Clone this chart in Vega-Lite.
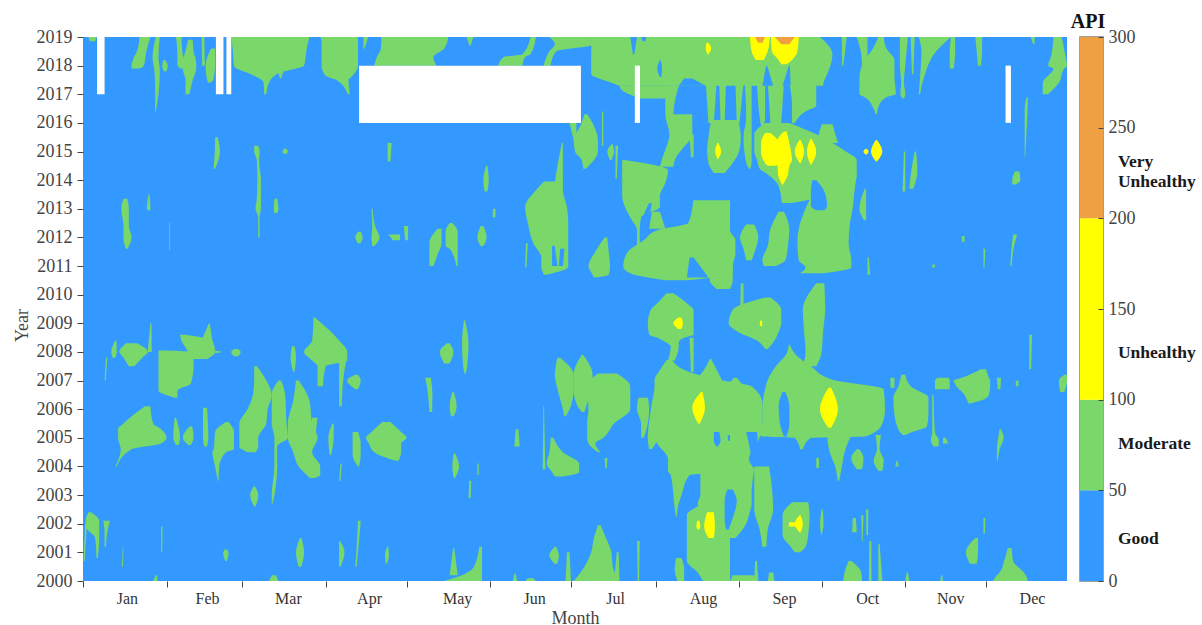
{"$schema":"https://vega.github.io/schema/vega-lite/v6.json","padding":{"left":13,"top":10,"right":0,"bottom":0},"background":"white","spacing":3,
"config":{"font":"Liberation Serif","view":{"stroke":null}},
"datasets":{
"moderate":[
{"id":1,"yr":2019,"d0":2,"d1":5},{"id":1,"yr":2018.85,"d0":2.5,"d1":4.5},
{"id":2,"yr":2019,"d0":21,"d1":25},{"id":2,"yr":2018.5,"d0":20,"d1":23.5},{"id":2,"yr":2018.2,"d0":18.5,"d1":23},{"id":2,"yr":2018,"d0":18,"d1":22.5},{"id":2,"yr":2017.9,"d0":18,"d1":21},
{"id":3,"yr":2019,"d0":27,"d1":28.5},{"id":3,"yr":2018.3,"d0":25.8,"d1":28},{"id":3,"yr":2017.8,"d0":26.5,"d1":28.5},{"id":3,"yr":2017,"d0":26.8,"d1":28},{"id":3,"yr":2016.4,"d0":26.7,"d1":27},
{"id":4,"yr":2018.2,"d0":29.8,"d1":30.5},{"id":4,"yr":2018,"d0":29.4,"d1":31.4},{"id":4,"yr":2017.8,"d0":30,"d1":31},
{"id":5,"yr":2019,"d0":34.5,"d1":36.5},{"id":5,"yr":2018.4,"d0":35,"d1":37},{"id":5,"yr":2018.05,"d0":35,"d1":38},{"id":5,"yr":2017.9,"d0":36,"d1":38},
{"id":6,"yr":2018.9,"d0":39,"d1":40.7},{"id":6,"yr":2018.5,"d0":38,"d1":41},{"id":6,"yr":2018.1,"d0":37,"d1":42},{"id":6,"yr":2017.9,"d0":37,"d1":42},{"id":6,"yr":2017.5,"d0":38,"d1":40.7},{"id":6,"yr":2017,"d0":38,"d1":39.5},
{"id":7,"yr":2019,"d0":44,"d1":45},{"id":7,"yr":2018,"d0":44.2,"d1":45.2},
{"id":8,"yr":2018.6,"d0":47.5,"d1":49},{"id":8,"yr":2018,"d0":45.5,"d1":49},{"id":8,"yr":2017.5,"d0":46,"d1":48.3},{"id":8,"yr":2017.4,"d0":46.5,"d1":47},
{"id":9,"yr":2019,"d0":55,"d1":84},{"id":9,"yr":2018.6,"d0":55.5,"d1":83},{"id":9,"yr":2018,"d0":56,"d1":82},{"id":9,"yr":2017.9,"d0":57,"d1":79},{"id":9,"yr":2017.75,"d0":61,"d1":73},{"id":9,"yr":2017.4,"d0":67,"d1":69},{"id":9,"yr":2017,"d0":67.2,"d1":68},
{"id":10,"yr":2018,"d0":72,"d1":75},{"id":10,"yr":2017.55,"d0":73,"d1":73.5},
{"id":11,"yr":2019,"d0":88,"d1":102},{"id":11,"yr":2018.85,"d0":88.5,"d1":102},{"id":11,"yr":2018,"d0":88.5,"d1":102},{"id":11,"yr":2017.65,"d0":90,"d1":100},{"id":11,"yr":2017.5,"d0":94,"d1":98.5},{"id":11,"yr":2017,"d0":98.2,"d1":99},
{"id":12,"yr":2019,"d0":104,"d1":105.8},{"id":12,"yr":2018.6,"d0":104,"d1":104.5},
{"id":13,"yr":2019,"d0":110.7,"d1":135.5},{"id":13,"yr":2018.6,"d0":110.5,"d1":134},{"id":13,"yr":2018.3,"d0":109,"d1":130},{"id":13,"yr":2018,"d0":108,"d1":131},
{"id":14,"yr":2019,"d0":142.3,"d1":144.8},{"id":14,"yr":2018.7,"d0":143.3,"d1":143.8},
{"id":15,"yr":2019,"d0":166,"d1":168},{"id":15,"yr":2018.4,"d0":163,"d1":166},{"id":15,"yr":2018.3,"d0":156,"d1":164},{"id":15,"yr":2018,"d0":154,"d1":163},
{"id":16,"yr":2019,"d0":173,"d1":190},{"id":16,"yr":2018.75,"d0":175,"d1":190},{"id":16,"yr":2018.5,"d0":173,"d1":175.5},{"id":16,"yr":2018,"d0":170.8,"d1":173.4},
{"id":17,"yr":2019,"d0":188.7,"d1":273.4},{"id":17,"yr":2018.4,"d0":188.5,"d1":278},{"id":17,"yr":2017.7,"d0":188.5,"d1":276},{"id":17,"yr":2017.6,"d0":190,"d1":275.5},{"id":17,"yr":2017.5,"d0":193,"d1":275},{"id":17,"yr":2017.3,"d0":199,"d1":274.5},
{"id":18,"yr":2017.3,"d0":199,"d1":221},{"id":18,"yr":2017.1,"d0":200.5,"d1":220},{"id":18,"yr":2016.95,"d0":204,"d1":219},{"id":18,"yr":2016.85,"d0":206,"d1":218},
{"id":19,"yr":2017.3,"d0":216,"d1":221},{"id":19,"yr":2016.3,"d0":216,"d1":219},{"id":19,"yr":2015.6,"d0":217.5,"d1":226},{"id":19,"yr":2015.05,"d0":216,"d1":222},{"id":19,"yr":2014.8,"d0":215,"d1":220},{"id":19,"yr":2014.47,"d0":214,"d1":219},
{"id":20,"yr":2016.3,"d0":218,"d1":226},{"id":20,"yr":2015.6,"d0":218,"d1":226},
{"id":21,"yr":2015.6,"d0":225,"d1":226.5},{"id":21,"yr":2014.8,"d0":225.5,"d1":226.5},
{"id":22,"yr":2017.4,"d0":231,"d1":235},{"id":22,"yr":2016,"d0":232,"d1":234},
{"id":23,"yr":2017.4,"d0":236,"d1":238.5},{"id":23,"yr":2016,"d0":236.5,"d1":238},
{"id":24,"yr":2017.4,"d0":242,"d1":245},{"id":24,"yr":2016,"d0":242.5,"d1":243.5},
{"id":25,"yr":2017.4,"d0":245.5,"d1":248},{"id":25,"yr":2016.2,"d0":246,"d1":248},{"id":25,"yr":2015.5,"d0":245,"d1":248},{"id":25,"yr":2014.6,"d0":246,"d1":248},{"id":25,"yr":2014.4,"d0":247,"d1":247.5},
{"id":26,"yr":2017.4,"d0":250,"d1":253},{"id":26,"yr":2016.2,"d0":251,"d1":253},{"id":26,"yr":2015.9,"d0":251.5,"d1":252.5},
{"id":27,"yr":2017.4,"d0":254,"d1":260},{"id":27,"yr":2016,"d0":255,"d1":259},
{"id":28,"yr":2017.4,"d0":262,"d1":272},{"id":28,"yr":2016.6,"d0":263,"d1":272},{"id":28,"yr":2016.4,"d0":263,"d1":268},{"id":28,"yr":2016,"d0":263,"d1":264},
{"id":29,"yr":2016.1,"d0":233,"d1":243},{"id":29,"yr":2015.5,"d0":232,"d1":244},{"id":29,"yr":2015.05,"d0":231.5,"d1":243.5},{"id":29,"yr":2014.6,"d0":232,"d1":241},{"id":29,"yr":2014.25,"d0":234,"d1":238},
{"id":30,"yr":2016,"d0":253,"d1":262},{"id":30,"yr":2015.6,"d0":249,"d1":272},{"id":30,"yr":2015.3,"d0":249,"d1":278},{"id":30,"yr":2015,"d0":249,"d1":283},{"id":30,"yr":2014.7,"d0":250,"d1":287},{"id":30,"yr":2014.4,"d0":251,"d1":287},{"id":30,"yr":2014.2,"d0":254,"d1":287},{"id":30,"yr":2013.8,"d0":258,"d1":286},{"id":30,"yr":2013.2,"d0":259.2,"d1":263},
{"id":31,"yr":2015.95,"d0":274,"d1":278},{"id":31,"yr":2015.3,"d0":272,"d1":280},
{"id":32,"yr":2014.2,"d0":268,"d1":287},{"id":32,"yr":2013.5,"d0":270,"d1":286},{"id":32,"yr":2013,"d0":268,"d1":285.5},{"id":32,"yr":2012.5,"d0":266,"d1":284.5},{"id":32,"yr":2011.8,"d0":265,"d1":284},{"id":32,"yr":2011.2,"d0":265.5,"d1":285},{"id":32,"yr":2010.95,"d0":268,"d1":285},{"id":32,"yr":2010.75,"d0":266,"d1":275},
{"id":33,"yr":2012.9,"d0":258,"d1":260},{"id":33,"yr":2012.3,"d0":255,"d1":262},{"id":33,"yr":2011.7,"d0":254,"d1":261.5},{"id":33,"yr":2011.2,"d0":252,"d1":260.5},{"id":33,"yr":2011,"d0":252.5,"d1":257},
{"id":34,"yr":2012.45,"d0":246,"d1":249},{"id":34,"yr":2012,"d0":243.7,"d1":250.5},{"id":34,"yr":2011.6,"d0":245,"d1":249.5},{"id":34,"yr":2011.2,"d0":246,"d1":248},
{"id":35,"yr":2013.3,"d0":226.4,"d1":240},{"id":35,"yr":2012.5,"d0":224.5,"d1":240},{"id":35,"yr":2012.25,"d0":213,"d1":240},{"id":35,"yr":2011.9,"d0":208,"d1":242},{"id":35,"yr":2011.45,"d0":201.7,"d1":242},{"id":35,"yr":2010.98,"d0":200.4,"d1":241},{"id":35,"yr":2010.75,"d0":203,"d1":241},{"id":35,"yr":2010.5,"d0":216,"d1":224},
{"id":36,"yr":2011,"d0":232.5,"d1":241},{"id":36,"yr":2010.5,"d0":232.5,"d1":241},{"id":36,"yr":2010.2,"d0":235,"d1":240},
{"id":37,"yr":2014.7,"d0":200,"d1":201},{"id":37,"yr":2014.35,"d0":200,"d1":217},{"id":37,"yr":2013.9,"d0":200,"d1":216},{"id":37,"yr":2013.45,"d0":200,"d1":214},{"id":37,"yr":2013.07,"d0":201,"d1":214},{"id":37,"yr":2012.7,"d0":203,"d1":207},{"id":37,"yr":2012.25,"d0":205.5,"d1":206.5},{"id":37,"yr":2011.6,"d0":205.5,"d1":206.5},
{"id":38,"yr":2012.9,"d0":211,"d1":214},{"id":38,"yr":2012.3,"d0":210,"d1":216},
{"id":39,"yr":2016.3,"d0":186,"d1":187},{"id":39,"yr":2015.9,"d0":184.5,"d1":189.5},{"id":39,"yr":2015.4,"d0":182,"d1":191},{"id":39,"yr":2015,"d0":182.5,"d1":191},{"id":39,"yr":2014.7,"d0":185,"d1":189.5},{"id":39,"yr":2014.4,"d0":185.5,"d1":186.5},
{"id":40,"yr":2016,"d0":180.5,"d1":183},{"id":40,"yr":2015.4,"d0":182,"d1":183},
{"id":41,"yr":2016.4,"d0":192.5,"d1":193},{"id":41,"yr":2015.2,"d0":192.5,"d1":193},
{"id":42,"yr":2015.25,"d0":196,"d1":196.5},{"id":42,"yr":2015,"d0":194.5,"d1":197},{"id":42,"yr":2014.7,"d0":195.5,"d1":196},
{"id":43,"yr":2015.2,"d0":197.5,"d1":198.5},{"id":43,"yr":2014.05,"d0":197.5,"d1":198},
{"id":44,"yr":2015.3,"d0":177.6,"d1":178},{"id":44,"yr":2014.5,"d0":176,"d1":178},{"id":44,"yr":2013.9,"d0":175,"d1":178},
{"id":45,"yr":2013.95,"d0":171,"d1":178},{"id":45,"yr":2013.65,"d0":168,"d1":178},{"id":45,"yr":2013.07,"d0":164,"d1":179.5},{"id":45,"yr":2012.5,"d0":165,"d1":180},{"id":45,"yr":2011.8,"d0":167,"d1":180},{"id":45,"yr":2011.3,"d0":170,"d1":180},{"id":45,"yr":2010.98,"d0":170,"d1":180},{"id":45,"yr":2010.7,"d0":171,"d1":172},
{"id":46,"yr":2011.8,"d0":164.3,"d1":165},{"id":46,"yr":2010.95,"d0":164,"d1":164.5},
{"id":47,"yr":2012,"d0":193.5,"d1":194.5},{"id":47,"yr":2011.5,"d0":190,"d1":195},{"id":47,"yr":2011,"d0":187.5,"d1":195.5},{"id":47,"yr":2010.7,"d0":189,"d1":195},{"id":47,"yr":2010.6,"d0":189.5,"d1":190},
{"id":48,"yr":2014.5,"d0":149.5,"d1":150},{"id":48,"yr":2014,"d0":148.5,"d1":150.5},{"id":48,"yr":2013.6,"d0":149,"d1":150},
{"id":49,"yr":2013,"d0":152,"d1":153},{"id":49,"yr":2012.7,"d0":152,"d1":153},
{"id":50,"yr":2012.4,"d0":119,"d1":120.6},{"id":50,"yr":2011.9,"d0":119.5,"d1":120.6},
{"id":51,"yr":2012.3,"d0":131.5,"d1":133},{"id":51,"yr":2011.8,"d0":128.5,"d1":133},{"id":51,"yr":2011.4,"d0":128.5,"d1":131.5},{"id":51,"yr":2011,"d0":128.5,"d1":130},
{"id":52,"yr":2012.5,"d0":136,"d1":137},{"id":52,"yr":2012.2,"d0":134.5,"d1":139},{"id":52,"yr":2011.7,"d0":134.5,"d1":139},{"id":52,"yr":2011.6,"d0":136,"d1":139},{"id":52,"yr":2011,"d0":138.5,"d1":139},
{"id":53,"yr":2012.4,"d0":147.5,"d1":148.5},{"id":53,"yr":2012,"d0":146.3,"d1":149.7},{"id":53,"yr":2011.7,"d0":147.5,"d1":148.5},
{"id":54,"yr":2015.5,"d0":49,"d1":50},{"id":54,"yr":2015,"d0":48.9,"d1":50.8},{"id":54,"yr":2014.4,"d0":48.4,"d1":49},
{"id":55,"yr":2015.2,"d0":63.5,"d1":65},{"id":55,"yr":2015,"d0":63.5,"d1":65.5},{"id":55,"yr":2014.7,"d0":64.5,"d1":65.3},{"id":55,"yr":2014,"d0":64.7,"d1":66},{"id":55,"yr":2013.3,"d0":64.4,"d1":66},{"id":55,"yr":2013,"d0":64,"d1":66},{"id":55,"yr":2012.7,"d0":65,"d1":65.5},{"id":55,"yr":2012,"d0":65,"d1":65.5},
{"id":56,"yr":2015.1,"d0":74.5,"d1":75.5},{"id":56,"yr":2015,"d0":74,"d1":76},{"id":56,"yr":2014.92,"d0":74.5,"d1":75.5},
{"id":57,"yr":2013.35,"d0":71,"d1":72},{"id":57,"yr":2013,"d0":70.8,"d1":72.5},{"id":57,"yr":2012.85,"d0":71,"d1":72},
{"id":58,"yr":2015.3,"d0":113,"d1":114.5},{"id":58,"yr":2014.65,"d0":113,"d1":114},
{"id":59,"yr":2013.35,"d0":15,"d1":16.5},{"id":59,"yr":2013,"d0":14.2,"d1":17},{"id":59,"yr":2012.4,"d0":15,"d1":17},{"id":59,"yr":2012,"d0":15,"d1":18},{"id":59,"yr":2011.6,"d0":15.8,"d1":16.5},
{"id":60,"yr":2013.5,"d0":24.3,"d1":24.7},{"id":60,"yr":2013,"d0":23.7,"d1":25},{"id":60,"yr":2012.95,"d0":24,"d1":25},
{"id":61,"yr":2012.5,"d0":32,"d1":32.3},{"id":61,"yr":2011.55,"d0":32,"d1":32.3},
{"id":62,"yr":2012.2,"d0":102,"d1":103},{"id":62,"yr":2012,"d0":101,"d1":103.7},{"id":62,"yr":2011.8,"d0":102,"d1":103},
{"id":63,"yr":2013,"d0":107,"d1":107.4},{"id":63,"yr":2012.35,"d0":107.3,"d1":108.5},{"id":63,"yr":2012,"d0":107,"d1":110},{"id":63,"yr":2011.7,"d0":107.3,"d1":108},
{"id":64,"yr":2012.1,"d0":113.2,"d1":117.6},{"id":64,"yr":2011.9,"d0":115,"d1":117.6},
{"id":65,"yr":2019,"d0":281.5,"d1":283.3},{"id":65,"yr":2018,"d0":281.5,"d1":282},
{"id":66,"yr":2019,"d0":295,"d1":297},{"id":66,"yr":2018.6,"d0":293,"d1":298},{"id":66,"yr":2018.2,"d0":290,"d1":301},{"id":66,"yr":2017.6,"d0":288,"d1":301},{"id":66,"yr":2017,"d0":288,"d1":301.5},{"id":66,"yr":2016.9,"d0":290,"d1":298},{"id":66,"yr":2016.55,"d0":293,"d1":295},{"id":66,"yr":2016.3,"d0":294,"d1":294.5},
{"id":67,"yr":2019,"d0":287,"d1":291},{"id":67,"yr":2018.5,"d0":288.5,"d1":291},{"id":67,"yr":2018,"d0":289,"d1":291},
{"id":68,"yr":2019,"d0":303,"d1":306},{"id":68,"yr":2018,"d0":303,"d1":305},{"id":68,"yr":2017.4,"d0":303.5,"d1":304.5},{"id":68,"yr":2017,"d0":303.2,"d1":305},{"id":68,"yr":2016.85,"d0":304,"d1":304.5},
{"id":69,"yr":2019,"d0":310,"d1":322},{"id":69,"yr":2018.5,"d0":311,"d1":316.5},{"id":69,"yr":2017.6,"d0":310.5,"d1":312},{"id":69,"yr":2017,"d0":310,"d1":310.5},
{"id":70,"yr":2019,"d0":307,"d1":308.5},{"id":70,"yr":2017.7,"d0":307.5,"d1":308},
{"id":71,"yr":2019,"d0":322,"d1":323.5},{"id":71,"yr":2018.5,"d0":321.5,"d1":323.5},{"id":71,"yr":2017.9,"d0":321.5,"d1":323},
{"id":72,"yr":2019,"d0":331,"d1":333.5},{"id":72,"yr":2018.5,"d0":331.5,"d1":333.5},{"id":72,"yr":2018,"d0":332,"d1":333},
{"id":73,"yr":2019,"d0":351.5,"d1":353},{"id":73,"yr":2018.75,"d0":352.5,"d1":353},
{"id":74,"yr":2019,"d0":360,"d1":363},{"id":74,"yr":2018.3,"d0":359,"d1":364.5},{"id":74,"yr":2018,"d0":358,"d1":365},{"id":74,"yr":2017.9,"d0":360,"d1":364},{"id":74,"yr":2017.4,"d0":356,"d1":362},{"id":74,"yr":2017,"d0":356,"d1":358},
{"id":75,"yr":2016.9,"d0":350,"d1":350.5},{"id":75,"yr":2016.5,"d0":349.3,"d1":350.4},{"id":75,"yr":2015.5,"d0":349.3,"d1":349.9},{"id":75,"yr":2014.8,"d0":349.3,"d1":349.5},
{"id":76,"yr":2014.3,"d0":345.7,"d1":347.3},{"id":76,"yr":2014,"d0":344.7,"d1":347.7},{"id":76,"yr":2013.85,"d0":344.7,"d1":346},
{"id":77,"yr":2015,"d0":308.5,"d1":309},{"id":77,"yr":2014.3,"d0":307.2,"d1":309.5},{"id":77,"yr":2013.7,"d0":306.5,"d1":308},
{"id":78,"yr":2015,"d0":304.5,"d1":305},{"id":78,"yr":2013.6,"d0":304,"d1":305},
{"id":79,"yr":2013.7,"d0":290,"d1":290.5},{"id":79,"yr":2013,"d0":288,"d1":290.5},{"id":79,"yr":2012.6,"d0":289.7,"d1":290.5},
{"id":80,"yr":2011.3,"d0":291,"d1":291.5},{"id":80,"yr":2010.7,"d0":291,"d1":292},
{"id":81,"yr":2012.1,"d0":345,"d1":346.5},{"id":81,"yr":2011.5,"d0":344.3,"d1":345},{"id":81,"yr":2011,"d0":344,"d1":344.5},
{"id":82,"yr":2012.05,"d0":326,"d1":327},{"id":82,"yr":2011.85,"d0":326,"d1":327},
{"id":83,"yr":2011.6,"d0":334,"d1":334.7},{"id":83,"yr":2010.95,"d0":334,"d1":334.4},
{"id":84,"yr":2011.05,"d0":315,"d1":316},{"id":84,"yr":2010.95,"d0":315,"d1":316},
{"id":85,"yr":2010.4,"d0":244,"d1":245},{"id":85,"yr":2009.5,"d0":243.8,"d1":245},
{"id":86,"yr":2009.9,"d0":253,"d1":255},{"id":86,"yr":2009.47,"d0":241,"d1":259},{"id":86,"yr":2009,"d0":239.5,"d1":259},{"id":86,"yr":2008.7,"d0":243,"d1":258},{"id":86,"yr":2008.4,"d0":250,"d1":256.5},{"id":86,"yr":2008.1,"d0":253,"d1":254},
{"id":87,"yr":2010.4,"d0":272,"d1":275},{"id":87,"yr":2009.47,"d0":267,"d1":275.3},{"id":87,"yr":2008.7,"d0":267.5,"d1":274.5},{"id":87,"yr":2008,"d0":268,"d1":274},{"id":87,"yr":2007.5,"d0":267,"d1":272},
{"id":88,"yr":2010.05,"d0":216.5,"d1":219},{"id":88,"yr":2009.7,"d0":213,"d1":224},{"id":88,"yr":2009.45,"d0":210.5,"d1":226.5},{"id":88,"yr":2009,"d0":209.5,"d1":226.5},{"id":88,"yr":2008.6,"d0":210,"d1":226.5},{"id":88,"yr":2008.5,"d0":213,"d1":223},{"id":88,"yr":2008.35,"d0":216,"d1":221},{"id":88,"yr":2008.2,"d0":218,"d1":221},{"id":88,"yr":2007.7,"d0":217,"d1":219.5},
{"id":89,"yr":2008.5,"d0":225,"d1":226.5},{"id":89,"yr":2007.3,"d0":225.5,"d1":226.5},
{"id":90,"yr":2007.72,"d0":216.5,"d1":218.5},{"id":90,"yr":2007.3,"d0":213.5,"d1":225},{"id":90,"yr":2007.03,"d0":212,"d1":236},{"id":90,"yr":2006.8,"d0":212,"d1":248},{"id":90,"yr":2006.2,"d0":211,"d1":252},{"id":90,"yr":2005.4,"d0":210,"d1":252},{"id":90,"yr":2004.8,"d0":213,"d1":250},{"id":90,"yr":2004.25,"d0":217,"d1":247},{"id":90,"yr":2003.85,"d0":217,"d1":249},{"id":90,"yr":2003.7,"d0":218,"d1":225},{"id":90,"yr":2003,"d0":219,"d1":222},{"id":90,"yr":2002.5,"d0":219.5,"d1":220.5},{"id":90,"yr":2002.25,"d0":220,"d1":220.3},
{"id":91,"yr":2007.75,"d0":232.5,"d1":233},{"id":91,"yr":2007.2,"d0":229,"d1":236},{"id":91,"yr":2007,"d0":227,"d1":237},
{"id":92,"yr":2007.1,"d0":241.5,"d1":242.5},{"id":92,"yr":2006.7,"d0":238,"d1":246},
{"id":93,"yr":2003.9,"d0":229,"d1":249},{"id":93,"yr":2003,"d0":229,"d1":248},{"id":93,"yr":2002.7,"d0":228,"d1":248},{"id":93,"yr":2002.3,"d0":230,"d1":247},{"id":93,"yr":2002,"d0":238,"d1":246},{"id":93,"yr":2001.5,"d0":239,"d1":242},
{"id":94,"yr":2004,"d0":249,"d1":254.5},{"id":94,"yr":2003.3,"d0":249,"d1":255.5},{"id":94,"yr":2002.5,"d0":249,"d1":256},{"id":94,"yr":2001.8,"d0":251,"d1":254},{"id":94,"yr":2001.2,"d0":252,"d1":253.5},
{"id":95,"yr":2002.6,"d0":228,"d1":238},{"id":95,"yr":2002.3,"d0":224,"d1":239},{"id":95,"yr":2001.5,"d0":224,"d1":240},{"id":95,"yr":2000.7,"d0":224,"d1":240},{"id":95,"yr":2000.3,"d0":228,"d1":240},{"id":95,"yr":2000,"d0":230,"d1":240},
{"id":96,"yr":2002.75,"d0":263,"d1":269},{"id":96,"yr":2002.3,"d0":259.5,"d1":269.5},{"id":96,"yr":2001.6,"d0":259.5,"d1":269},{"id":96,"yr":2001.2,"d0":262.5,"d1":268},{"id":96,"yr":2001,"d0":264,"d1":266},
{"id":97,"yr":2008.25,"d0":261.8,"d1":262.2},{"id":97,"yr":2007.95,"d0":261,"d1":264},{"id":97,"yr":2007.5,"d0":257,"d1":270},{"id":97,"yr":2007.03,"d0":254,"d1":278},{"id":97,"yr":2006.7,"d0":253,"d1":297},{"id":97,"yr":2006,"d0":252,"d1":297.5},{"id":97,"yr":2005.5,"d0":252,"d1":296.5},{"id":97,"yr":2005.16,"d0":250,"d1":293},{"id":97,"yr":2005.05,"d0":252,"d1":290},{"id":97,"yr":2005,"d0":264,"d1":270},{"id":97,"yr":2004.6,"d0":266,"d1":267},
{"id":98,"yr":2005.1,"d0":276,"d1":285},{"id":98,"yr":2004.5,"d0":277,"d1":282.5},{"id":98,"yr":2004,"d0":279,"d1":281.5},{"id":98,"yr":2003.5,"d0":280,"d1":280.5},
{"id":99,"yr":2004.6,"d0":287,"d1":288},{"id":99,"yr":2004.3,"d0":285,"d1":289.5},{"id":99,"yr":2003.9,"d0":287,"d1":289},
{"id":100,"yr":2005.1,"d0":294,"d1":296},{"id":100,"yr":2004.6,"d0":294.5,"d1":295.5},{"id":100,"yr":2004.2,"d0":293.3,"d1":297},{"id":100,"yr":2003.85,"d0":295,"d1":296.5},
{"id":101,"yr":2004.3,"d0":272,"d1":273},{"id":101,"yr":2003.95,"d0":272,"d1":273},
{"id":102,"yr":2004.2,"d0":301.8,"d1":302.3},{"id":102,"yr":2004,"d0":301.3,"d1":302.5},
{"id":103,"yr":2007.2,"d0":303.5,"d1":305},{"id":103,"yr":2006.8,"d0":302.5,"d1":307},{"id":103,"yr":2006.4,"d0":300.6,"d1":313.6},{"id":103,"yr":2005.8,"d0":301,"d1":313.6},{"id":103,"yr":2005.4,"d0":302,"d1":313},{"id":103,"yr":2005.2,"d0":303,"d1":307.5},{"id":103,"yr":2005.1,"d0":304,"d1":305},
{"id":104,"yr":2007.1,"d0":299.5,"d1":301},{"id":104,"yr":2006.75,"d0":299.5,"d1":301},
{"id":105,"yr":2006.5,"d0":315,"d1":315.5},{"id":105,"yr":2005.2,"d0":315,"d1":316},{"id":105,"yr":2004.9,"d0":314.5,"d1":317.5},{"id":105,"yr":2004.7,"d0":315.5,"d1":317.3},
{"id":106,"yr":2005,"d0":319,"d1":320},{"id":106,"yr":2004.8,"d0":319,"d1":321},
{"id":107,"yr":2007.1,"d0":317,"d1":321},{"id":107,"yr":2007,"d0":316,"d1":321.5},{"id":107,"yr":2006.7,"d0":316,"d1":321.5},
{"id":108,"yr":2007.4,"d0":333,"d1":335},{"id":108,"yr":2007.1,"d0":326,"d1":336},{"id":108,"yr":2007,"d0":323,"d1":336.5},{"id":108,"yr":2006.8,"d0":324,"d1":336.5},{"id":108,"yr":2006.5,"d0":327,"d1":336},{"id":108,"yr":2006.3,"d0":328,"d1":333},{"id":108,"yr":2006.2,"d0":328.5,"d1":329},
{"id":109,"yr":2007.1,"d0":339,"d1":340.5},{"id":109,"yr":2006.7,"d0":339.3,"d1":340.3},
{"id":110,"yr":2007,"d0":346,"d1":347},{"id":110,"yr":2006.8,"d0":346,"d1":347},
{"id":111,"yr":2008.6,"d0":351,"d1":352},{"id":111,"yr":2007.4,"d0":351,"d1":351.7},
{"id":112,"yr":2007.2,"d0":364,"d1":365},{"id":112,"yr":2007,"d0":362,"d1":365},{"id":112,"yr":2006.6,"d0":362.5,"d1":364},
{"id":113,"yr":2005.3,"d0":340,"d1":340.5},{"id":113,"yr":2005,"d0":339.5,"d1":341.5},{"id":113,"yr":2004.6,"d0":339,"d1":340},{"id":113,"yr":2004.2,"d0":339,"d1":339.3},
{"id":114,"yr":2002.5,"d0":274,"d1":274.4},{"id":114,"yr":2002,"d0":273.4,"d1":274.7},{"id":114,"yr":2001.6,"d0":273.8,"d1":274},
{"id":115,"yr":2002.2,"d0":285.5,"d1":286.7},{"id":115,"yr":2001.7,"d0":285.3,"d1":287},
{"id":116,"yr":2002.3,"d0":288.7,"d1":289.5},{"id":116,"yr":2001.4,"d0":288.9,"d1":289.2},
{"id":117,"yr":2002.5,"d0":290.5,"d1":291.3},{"id":117,"yr":2001.6,"d0":290.6,"d1":291.2},
{"id":118,"yr":2001.5,"d0":331,"d1":332},{"id":118,"yr":2001,"d0":327.5,"d1":332},{"id":118,"yr":2000.6,"d0":329,"d1":331.5},
{"id":119,"yr":2002.2,"d0":334,"d1":334.7},{"id":119,"yr":2001.65,"d0":334,"d1":334.5},
{"id":120,"yr":2000.7,"d0":284,"d1":285},{"id":120,"yr":2000.3,"d0":282.5,"d1":288.7},{"id":120,"yr":2000,"d0":282,"d1":289},
{"id":121,"yr":2001.4,"d0":291.7,"d1":292.4},{"id":121,"yr":2000,"d0":291.5,"d1":292.5},
{"id":122,"yr":2001.3,"d0":295,"d1":295.5},{"id":122,"yr":2000,"d0":295,"d1":296.5},
{"id":123,"yr":2000.3,"d0":305.5,"d1":306},{"id":123,"yr":2000,"d0":305,"d1":306.5},
{"id":124,"yr":2000.2,"d0":318.3,"d1":318.7},{"id":124,"yr":2000,"d0":318,"d1":319},
{"id":125,"yr":2001.15,"d0":343,"d1":344.5},{"id":125,"yr":2000.7,"d0":341.7,"d1":345},{"id":125,"yr":2000.3,"d0":340,"d1":349},{"id":125,"yr":2000.15,"d0":338.5,"d1":350},{"id":125,"yr":2000,"d0":337.5,"d1":350.5},
{"id":126,"yr":2000.8,"d0":220,"d1":222},{"id":126,"yr":2000.4,"d0":219.5,"d1":223},{"id":126,"yr":2000,"d0":220.5,"d1":223},
{"id":127,"yr":2001.95,"d0":191,"d1":192},{"id":127,"yr":2001.5,"d0":189.5,"d1":194},{"id":127,"yr":2001,"d0":188.5,"d1":196},{"id":127,"yr":2000.5,"d0":186,"d1":196.5},{"id":127,"yr":2000,"d0":182,"d1":199},
{"id":128,"yr":2001,"d0":179.5,"d1":180.5},{"id":128,"yr":2000,"d0":179,"d1":181},
{"id":129,"yr":2001,"d0":198,"d1":198.7},{"id":129,"yr":2000,"d0":197,"d1":199},
{"id":130,"yr":2001.4,"d0":205.5,"d1":206.5},{"id":130,"yr":2000,"d0":205.8,"d1":206.3},
{"id":131,"yr":2001.2,"d0":175,"d1":175.5},{"id":131,"yr":2000.9,"d0":173,"d1":176.5},{"id":131,"yr":2000.6,"d0":175,"d1":176},
{"id":132,"yr":2001.2,"d0":147,"d1":148},{"id":132,"yr":2000.5,"d0":145,"d1":148},{"id":132,"yr":2000.2,"d0":140.5,"d1":148},{"id":132,"yr":2000,"d0":134,"d1":148},
{"id":133,"yr":2001.15,"d0":137.3,"d1":137.7},{"id":133,"yr":2000.2,"d0":136,"d1":139},
{"id":134,"yr":2000.25,"d0":160,"d1":160.5},{"id":134,"yr":2000,"d0":159.5,"d1":161},
{"id":135,"yr":2000.1,"d0":165,"d1":167},{"id":135,"yr":2000,"d0":164,"d1":168},
{"id":136,"yr":2000.2,"d0":241,"d1":249},{"id":136,"yr":2000,"d0":240,"d1":250},
{"id":137,"yr":2000.7,"d0":249.3,"d1":250},{"id":137,"yr":2000,"d0":249,"d1":250.5},
{"id":138,"yr":2000.3,"d0":254.5,"d1":256},{"id":138,"yr":2000,"d0":254,"d1":256.5},
{"id":139,"yr":2008.3,"d0":135,"d1":136},{"id":139,"yr":2008,"d0":132.4,"d1":137.4},{"id":139,"yr":2007.6,"d0":134,"d1":136},
{"id":140,"yr":2009.1,"d0":141.3,"d1":141.7},{"id":140,"yr":2008.3,"d0":140.6,"d1":143},{"id":140,"yr":2007.5,"d0":141,"d1":142.5},{"id":140,"yr":2007.25,"d0":141.5,"d1":142},
{"id":141,"yr":2007.1,"d0":127,"d1":129},{"id":141,"yr":2006.5,"d0":128,"d1":129.6},{"id":141,"yr":2005.9,"d0":128.5,"d1":129.5},
{"id":142,"yr":2006.6,"d0":137,"d1":137.5},{"id":142,"yr":2006.1,"d0":136,"d1":138.6},{"id":142,"yr":2005.75,"d0":136.5,"d1":137.5},
{"id":143,"yr":2004.45,"d0":137.5,"d1":138},{"id":143,"yr":2004,"d0":137,"d1":139.5},{"id":143,"yr":2003.6,"d0":137.5,"d1":138},
{"id":144,"yr":2003.5,"d0":143.3,"d1":144},{"id":144,"yr":2002.9,"d0":143,"d1":143.8},
{"id":145,"yr":2004.1,"d0":146.3,"d1":146.8},{"id":145,"yr":2003.7,"d0":146.3,"d1":146.8},
{"id":146,"yr":2005.3,"d0":160.5,"d1":161.5},{"id":146,"yr":2004.7,"d0":160,"d1":162},
{"id":147,"yr":2006.1,"d0":170.8,"d1":171},{"id":147,"yr":2003.9,"d0":170.5,"d1":171.5},
{"id":148,"yr":2005,"d0":173.5,"d1":174.5},{"id":148,"yr":2004.5,"d0":173,"d1":178},{"id":148,"yr":2004.1,"d0":172,"d1":184},{"id":148,"yr":2003.8,"d0":174,"d1":184},{"id":148,"yr":2003.65,"d0":175,"d1":178},
{"id":149,"yr":2007.8,"d0":176,"d1":177},{"id":149,"yr":2007.2,"d0":175,"d1":182},{"id":149,"yr":2006.7,"d0":176,"d1":182},{"id":149,"yr":2006,"d0":178,"d1":180.5},{"id":149,"yr":2005.75,"d0":178.5,"d1":179},
{"id":150,"yr":2007.9,"d0":185,"d1":185.5},{"id":150,"yr":2007.2,"d0":182,"d1":189},{"id":150,"yr":2006.7,"d0":182,"d1":189},{"id":150,"yr":2006.2,"d0":183,"d1":187},{"id":150,"yr":2005.9,"d0":185,"d1":186},
{"id":151,"yr":2007.25,"d0":191,"d1":198},{"id":151,"yr":2006.8,"d0":187,"d1":203},{"id":151,"yr":2006,"d0":187.5,"d1":203},{"id":151,"yr":2005.5,"d0":187,"d1":197},{"id":151,"yr":2005,"d0":187,"d1":193},{"id":151,"yr":2004.8,"d0":187.5,"d1":190},{"id":151,"yr":2004.5,"d0":191,"d1":192},
{"id":152,"yr":2006.4,"d0":206,"d1":209.5},{"id":152,"yr":2006,"d0":205.5,"d1":210},{"id":152,"yr":2005.5,"d0":207,"d1":209.5},{"id":152,"yr":2005,"d0":207,"d1":208},
{"id":153,"yr":2005.6,"d0":210,"d1":212},{"id":153,"yr":2005,"d0":209.5,"d1":213},{"id":153,"yr":2004.6,"d0":210,"d1":211},
{"id":154,"yr":2004.3,"d0":193.5,"d1":194.5},{"id":154,"yr":2003.95,"d0":193.7,"d1":194.3},
{"id":155,"yr":2002.4,"d0":2,"d1":3},{"id":155,"yr":2002.1,"d0":1,"d1":6},{"id":155,"yr":2001.9,"d0":1,"d1":6},{"id":155,"yr":2001.5,"d0":4.5,"d1":6},{"id":155,"yr":2000.8,"d0":5,"d1":5.5},
{"id":156,"yr":2002,"d0":0.8,"d1":1.5},{"id":156,"yr":2000.7,"d0":0.2,"d1":0.6},
{"id":157,"yr":2002.1,"d0":7.5,"d1":10},{"id":157,"yr":2001.7,"d0":8,"d1":9},{"id":157,"yr":2001.2,"d0":8,"d1":8.5},
{"id":158,"yr":2001.2,"d0":14.8,"d1":15},{"id":158,"yr":2000.5,"d0":14.4,"d1":14.8},
{"id":159,"yr":2001.9,"d0":29,"d1":29.5},{"id":159,"yr":2001,"d0":29,"d1":29.4},
{"id":160,"yr":2000.2,"d0":27,"d1":27.5},{"id":160,"yr":2000,"d0":26,"d1":27.6},
{"id":161,"yr":2001.1,"d0":52.5,"d1":53.5},{"id":161,"yr":2000.95,"d0":52,"d1":54},{"id":161,"yr":2000.7,"d0":52.8,"d1":53.3},
{"id":162,"yr":2003.3,"d0":63.3,"d1":63.8},{"id":162,"yr":2003,"d0":62,"d1":65},{"id":162,"yr":2002.6,"d0":63.5,"d1":64},
{"id":163,"yr":2000.2,"d0":70,"d1":71.5},{"id":163,"yr":2000,"d0":69,"d1":72.5},
{"id":164,"yr":2001.5,"d0":80.5,"d1":81},{"id":164,"yr":2001,"d0":79,"d1":82},{"id":164,"yr":2000.5,"d0":80,"d1":81},
{"id":165,"yr":2001.4,"d0":95,"d1":95.4},{"id":165,"yr":2001,"d0":95,"d1":97},{"id":165,"yr":2000.5,"d0":95,"d1":95.5},
{"id":166,"yr":2002.1,"d0":102,"d1":103},{"id":166,"yr":2001.5,"d0":101.7,"d1":102.5},{"id":166,"yr":2000.5,"d0":101,"d1":101.5},
{"id":167,"yr":2001.2,"d0":112.8,"d1":113.2},{"id":167,"yr":2000.9,"d0":112,"d1":113.5},{"id":167,"yr":2000.6,"d0":112.3,"d1":112.7},
{"id":168,"yr":2006.1,"d0":23,"d1":25},{"id":168,"yr":2005.5,"d0":15,"d1":26},{"id":168,"yr":2005.3,"d0":13,"d1":29},{"id":168,"yr":2005,"d0":13,"d1":31},{"id":168,"yr":2004.8,"d0":13.5,"d1":29},{"id":168,"yr":2004.6,"d0":14,"d1":18},{"id":168,"yr":2004,"d0":12,"d1":12.5},
{"id":169,"yr":2005.7,"d0":34,"d1":34.5},{"id":169,"yr":2005,"d0":33.5,"d1":36},{"id":169,"yr":2004.75,"d0":34.5,"d1":35.5},
{"id":170,"yr":2005.4,"d0":39.5,"d1":40.5},{"id":170,"yr":2005,"d0":37,"d1":41},{"id":170,"yr":2004.75,"d0":39,"d1":40},
{"id":171,"yr":2006.05,"d0":44.5,"d1":46},{"id":171,"yr":2005,"d0":44.5,"d1":46.5},{"id":171,"yr":2004.7,"d0":45,"d1":46},
{"id":172,"yr":2005.55,"d0":53,"d1":54},{"id":172,"yr":2005.2,"d0":49,"d1":56},{"id":172,"yr":2004.6,"d0":48.5,"d1":56},{"id":172,"yr":2004.5,"d0":48,"d1":53},{"id":172,"yr":2004,"d0":49,"d1":50.5},{"id":172,"yr":2003.5,"d0":50,"d1":50.3},
{"id":173,"yr":2007.5,"d0":63.5,"d1":64.5},{"id":173,"yr":2007,"d0":63.5,"d1":68},{"id":173,"yr":2006.5,"d0":63,"d1":70},{"id":173,"yr":2006,"d0":61,"d1":68.5},{"id":173,"yr":2005.5,"d0":58,"d1":68},{"id":173,"yr":2005,"d0":58,"d1":65},{"id":173,"yr":2004.7,"d0":58,"d1":65},{"id":173,"yr":2004.5,"d0":61,"d1":64},
{"id":174,"yr":2007,"d0":72.5,"d1":73.5},{"id":174,"yr":2006.5,"d0":70,"d1":75},{"id":174,"yr":2005.5,"d0":70,"d1":75.5},{"id":174,"yr":2005,"d0":71,"d1":76},{"id":174,"yr":2004.7,"d0":71,"d1":72},{"id":174,"yr":2004,"d0":71,"d1":72},{"id":174,"yr":2003,"d0":70,"d1":71},{"id":174,"yr":2002.7,"d0":70,"d1":70.3},
{"id":175,"yr":2007,"d0":79,"d1":80},{"id":175,"yr":2006.3,"d0":78,"d1":84},{"id":175,"yr":2005.5,"d0":76,"d1":85},{"id":175,"yr":2005,"d0":76,"d1":87},{"id":175,"yr":2004.5,"d0":78,"d1":85},{"id":175,"yr":2004,"d0":80,"d1":88},{"id":175,"yr":2003.7,"d0":83,"d1":88},{"id":175,"yr":2003.6,"d0":84,"d1":86},
{"id":176,"yr":2005.5,"d0":92.5,"d1":93},{"id":176,"yr":2005,"d0":91,"d1":93},{"id":176,"yr":2004.4,"d0":91.5,"d1":92},
{"id":177,"yr":2005.2,"d0":100,"d1":102},{"id":177,"yr":2004.8,"d0":100,"d1":103},{"id":177,"yr":2004.4,"d0":100,"d1":103},{"id":177,"yr":2004,"d0":102,"d1":102.4},
{"id":178,"yr":2005.55,"d0":111,"d1":114},{"id":178,"yr":2005.2,"d0":107,"d1":118},{"id":178,"yr":2005,"d0":105,"d1":120},{"id":178,"yr":2004.8,"d0":106,"d1":118},{"id":178,"yr":2004.5,"d0":108,"d1":118},{"id":178,"yr":2004.2,"d0":116,"d1":117},
{"id":179,"yr":2008.4,"d0":12,"d1":12.4},{"id":179,"yr":2008,"d0":10.5,"d1":12.5},{"id":179,"yr":2007.8,"d0":11,"d1":12},
{"id":180,"yr":2007.8,"d0":8.5,"d1":9},{"id":180,"yr":2007,"d0":8,"d1":8.4},
{"id":181,"yr":2008.3,"d0":16,"d1":20},{"id":181,"yr":2008,"d0":13.5,"d1":24},{"id":181,"yr":2007.8,"d0":15,"d1":22},{"id":181,"yr":2007.5,"d0":17,"d1":19},
{"id":182,"yr":2009,"d0":25,"d1":25.4},{"id":182,"yr":2008,"d0":24,"d1":25.5},
{"id":183,"yr":2008.05,"d0":28,"d1":31},{"id":183,"yr":2008,"d0":28,"d1":41},{"id":183,"yr":2007.5,"d0":28,"d1":41},{"id":183,"yr":2006.9,"d0":28,"d1":40},{"id":183,"yr":2006.65,"d0":28,"d1":35},{"id":183,"yr":2006.4,"d0":34,"d1":35},
{"id":184,"yr":2008.6,"d0":36,"d1":38},{"id":184,"yr":2008.4,"d0":36.5,"d1":48},{"id":184,"yr":2008,"d0":39,"d1":49},{"id":184,"yr":2007.75,"d0":40,"d1":46},
{"id":185,"yr":2009,"d0":46.7,"d1":47},{"id":185,"yr":2008.4,"d0":44,"d1":48},
{"id":186,"yr":2008.03,"d0":49,"d1":51},{"id":186,"yr":2007.97,"d0":49,"d1":51},
{"id":187,"yr":2008.1,"d0":56,"d1":57.5},{"id":187,"yr":2008,"d0":55,"d1":58.5},{"id":187,"yr":2007.85,"d0":56,"d1":57.5},
{"id":188,"yr":2008.2,"d0":77.5,"d1":78.5},{"id":188,"yr":2007.8,"d0":77,"d1":79},{"id":188,"yr":2007.3,"d0":78,"d1":78.4},
{"id":189,"yr":2009.2,"d0":85.5,"d1":86},{"id":189,"yr":2008.4,"d0":85,"d1":95},{"id":189,"yr":2008,"d0":82,"d1":98},{"id":189,"yr":2007.7,"d0":85,"d1":98},{"id":189,"yr":2007.5,"d0":87,"d1":90},{"id":189,"yr":2006.8,"d0":87,"d1":89},
{"id":190,"yr":2007.9,"d0":95,"d1":98},{"id":190,"yr":2007,"d0":95,"d1":96.5},{"id":190,"yr":2006.1,"d0":95,"d1":96},
{"id":191,"yr":2007.2,"d0":101,"d1":102},{"id":191,"yr":2007,"d0":98,"d1":103},{"id":191,"yr":2006.7,"d0":101,"d1":102},
{"id":192,"yr":2005.7,"d0":85,"d1":87},{"id":192,"yr":2004.9,"d0":84,"d1":86},
{"id":193,"yr":2004.1,"d0":95.5,"d1":96},{"id":193,"yr":2003.5,"d0":95,"d1":95.5}
],
"good":[
{"id":1,"yr":2019,"d0":203,"d1":205.5},{"id":1,"yr":2018.4,"d0":204,"d1":204.5},
{"id":2,"yr":2019,"d0":207,"d1":209},{"id":2,"yr":2018.85,"d0":207.5,"d1":208.5},
{"id":3,"yr":2018.2,"d0":214,"d1":214.2},{"id":3,"yr":2017.9,"d0":213,"d1":214.8},{"id":3,"yr":2017.6,"d0":214,"d1":214.5},
{"id":4,"yr":2017.55,"d0":223,"d1":226},{"id":4,"yr":2017.3,"d0":221,"d1":231},
{"id":5,"yr":2018,"d0":253.4,"d1":253.8},{"id":5,"yr":2017.3,"d0":252,"d1":256},
{"id":6,"yr":2018,"d0":261.8,"d1":262.2},{"id":6,"yr":2017.3,"d0":259.5,"d1":262.5},
{"id":7,"yr":2014,"d0":270.5,"d1":272},{"id":7,"yr":2013.6,"d0":270,"d1":275},{"id":7,"yr":2013.1,"d0":270,"d1":276},{"id":7,"yr":2012.95,"d0":272,"d1":275},
{"id":8,"yr":2013.2,"d0":210,"d1":211},{"id":8,"yr":2012.6,"d0":207.5,"d1":210},{"id":8,"yr":2012.1,"d0":207,"d1":209.5},{"id":8,"yr":2011.95,"d0":207,"d1":208},
{"id":9,"yr":2011.3,"d0":225,"d1":226.5},{"id":9,"yr":2010.6,"d0":224,"d1":232},
{"id":10,"yr":2011.7,"d0":174,"d1":175},{"id":10,"yr":2011,"d0":174,"d1":176},
{"id":11,"yr":2011.6,"d0":177,"d1":178.6},{"id":11,"yr":2011,"d0":176.5,"d1":178},
{"id":12,"yr":2005.2,"d0":234,"d1":236},{"id":12,"yr":2004.9,"d0":234,"d1":236.5},{"id":12,"yr":2004.7,"d0":235,"d1":235.5},
{"id":13,"yr":2005.1,"d0":239.2,"d1":240},{"id":13,"yr":2004.9,"d0":239.2,"d1":240},
{"id":14,"yr":2005.2,"d0":246,"d1":250},{"id":14,"yr":2004.8,"d0":247,"d1":250.3},{"id":14,"yr":2004.3,"d0":248,"d1":249.5},{"id":14,"yr":2004,"d0":248.6,"d1":248.9},
{"id":15,"yr":2006.6,"d0":259.5,"d1":260.5},{"id":15,"yr":2006.1,"d0":258,"d1":262},{"id":15,"yr":2005.5,"d0":258.5,"d1":262},{"id":15,"yr":2005.05,"d0":260,"d1":261},
{"id":16,"yr":2003.2,"d0":239,"d1":241},{"id":16,"yr":2002.8,"d0":238,"d1":242.5},{"id":16,"yr":2002.2,"d0":238,"d1":241},{"id":16,"yr":2001.8,"d0":238.5,"d1":239.5}
],
"unhealthy":[
{"id":1,"yr":2018.8,"d0":231.3,"d1":232},{"id":1,"yr":2018.6,"d0":231,"d1":233},{"id":1,"yr":2018.4,"d0":231.6,"d1":232},
{"id":2,"yr":2019,"d0":247.4,"d1":254.8},{"id":2,"yr":2018.5,"d0":248,"d1":254},{"id":2,"yr":2018.2,"d0":249.5,"d1":252.5},
{"id":3,"yr":2019,"d0":255.2,"d1":265.5},{"id":3,"yr":2018.5,"d0":255.5,"d1":265},{"id":3,"yr":2018.2,"d0":258,"d1":263},{"id":3,"yr":2018.05,"d0":259,"d1":261},
{"id":4,"yr":2015.65,"d0":253,"d1":255},{"id":4,"yr":2015.3,"d0":251.5,"d1":258},{"id":4,"yr":2015,"d0":251.5,"d1":258},{"id":4,"yr":2014.6,"d0":253,"d1":258},{"id":4,"yr":2014.5,"d0":254,"d1":257},
{"id":5,"yr":2015.7,"d0":260,"d1":261},{"id":5,"yr":2015.3,"d0":257,"d1":262},{"id":5,"yr":2014.7,"d0":256.5,"d1":263},{"id":5,"yr":2014.5,"d0":257.6,"d1":262},{"id":5,"yr":2014.2,"d0":257.8,"d1":261.5},{"id":5,"yr":2013.85,"d0":259.3,"d1":259.7},
{"id":6,"yr":2015.3,"d0":235.3,"d1":235.7},{"id":6,"yr":2015,"d0":234.5,"d1":236.7},{"id":6,"yr":2014.75,"d0":235.3,"d1":235.7},
{"id":7,"yr":2015.4,"d0":265.8,"d1":266.2},{"id":7,"yr":2015,"d0":264,"d1":267.5},{"id":7,"yr":2014.6,"d0":265.8,"d1":266.2},
{"id":8,"yr":2015.45,"d0":269.8,"d1":270.2},{"id":8,"yr":2015,"d0":268.5,"d1":272},{"id":8,"yr":2014.55,"d0":269.8,"d1":270.2},
{"id":9,"yr":2015.1,"d0":290.3,"d1":290.7},{"id":9,"yr":2015,"d0":289.5,"d1":291.4},{"id":9,"yr":2014.9,"d0":290.3,"d1":290.7},
{"id":10,"yr":2015.4,"d0":294.1,"d1":294.5},{"id":10,"yr":2015,"d0":292.3,"d1":296.5},{"id":10,"yr":2014.65,"d0":294.1,"d1":294.5},
{"id":11,"yr":2009.2,"d0":220.8,"d1":222},{"id":11,"yr":2009,"d0":219,"d1":222.5},{"id":11,"yr":2008.8,"d0":220.8,"d1":222},
{"id":12,"yr":2009.1,"d0":251.3,"d1":251.7},{"id":12,"yr":2009,"d0":251,"d1":252},{"id":12,"yr":2008.9,"d0":251.3,"d1":251.7},
{"id":13,"yr":2006.6,"d0":229.2,"d1":229.8},{"id":13,"yr":2006.05,"d0":226,"d1":230.7},{"id":13,"yr":2005.5,"d0":228.2,"d1":228.8},
{"id":14,"yr":2006.75,"d0":276.5,"d1":277.5},{"id":14,"yr":2006,"d0":273.4,"d1":280},{"id":14,"yr":2005.35,"d0":276.5,"d1":277.5},
{"id":15,"yr":2002.1,"d0":227.8,"d1":228.6},{"id":15,"yr":2001.9,"d0":227.5,"d1":229},{"id":15,"yr":2001.8,"d0":228,"d1":228.6},
{"id":16,"yr":2002.4,"d0":231.5,"d1":234},{"id":16,"yr":2001.9,"d0":230.4,"d1":234.4},{"id":16,"yr":2001.5,"d0":232,"d1":234},
{"id":17,"yr":2002.05,"d0":262,"d1":264.5},{"id":17,"yr":2001.9,"d0":261.7,"d1":264.5},
{"id":18,"yr":2002.3,"d0":265.8,"d1":266.2},{"id":18,"yr":2002,"d0":264,"d1":267},{"id":18,"yr":2001.7,"d0":265.8,"d1":266.2}
],
"veryunhealthy":[
{"id":1,"yr":2019,"d0":249.3,"d1":253},{"id":1,"yr":2018.8,"d0":250.5,"d1":252},
{"id":2,"yr":2019,"d0":256.6,"d1":264},{"id":2,"yr":2018.75,"d0":259,"d1":262}
],
"missing":[
{"d0":5.2,"d1":8,"yr":2017,"yr2":2019},{"d0":49.3,"d1":52.1,"yr":2017,"yr2":2019},{"d0":53.2,"d1":55,"yr":2017,"yr2":2019},{"d0":102.4,"d1":184.7,"yr":2016,"yr2":2018},{"d0":204.7,"d1":206.6,"yr":2016,"yr2":2018},{"d0":342.2,"d1":344.2,"yr":2016,"yr2":2018}
]
},
"hconcat":[
{"width":984,"height":544,"view":{"fill":"#3399FF","stroke":null},
"encoding":{"y":{"field":"yr","type":"quantitative","scale":{"domain":[2000,2019],"nice":false,"zero":false},"axis":{"title":"Year","titleFontSize":18,"titleFontWeight":"normal","titleColor":"#444444","titlePadding":5,"titleY":288,"values":[2000,2001,2002,2003,2004,2005,2006,2007,2008,2009,2010,2011,2012,2013,2014,2015,2016,2017,2018,2019],"format":"d","labelFontSize":18,"labelColor":"#444444","tickColor":"#444444","tickSize":6,"domain":false,"grid":false,"labelPadding":5}}},
"resolve":{"axis":{"x":"independent"}},
"layer":[
{"data":{"name":"moderate"},"mark":{"type":"area","orient":"horizontal","color":"#7AD76A","interpolate":"monotone"},
"encoding":{
"x":{"field":"d0","type":"quantitative","stack":null,"scale":{"domain":[0,365],"nice":false,"zero":false},"axis":{"orient":"bottom","title":"Month","titleFontSize":18,"titleFontWeight":"normal","titleColor":"#444444","titlePadding":3,"values":[16.3,46,76,106.1,138.8,167.3,197.4,230,260,290.9,321.7,352],"labelExpr":"{'16.3':'Jan','46':'Feb','76':'Mar','106.1':'Apr','138.8':'May','167.3':'Jun','197.4':'Jul','230':'Aug','260':'Sep','290.9':'Oct','321.7':'Nov','352':'Dec'}[''+datum.value]","labelFontSize":16,"labelColor":"#333333","tickSize":0,"domain":false,"grid":false,"labelPadding":9}},
"x2":{"field":"d1"},"detail":{"field":"id"}}},
{"data":{"name":"good"},"mark":{"type":"area","orient":"horizontal","color":"#3399FF","interpolate":"monotone"},
"encoding":{"x":{"field":"d0","type":"quantitative","stack":null,"axis":{"orient":"bottom","title":null,"values":[0,31,59,90,120,151,181,212.5,243.5,274,305,335],"labels":false,"tickSize":6,"tickColor":"#444444","domain":false,"grid":false}},"x2":{"field":"d1"},"detail":{"field":"id"}}},
{"data":{"name":"unhealthy"},"mark":{"type":"area","orient":"horizontal","color":"#FFFF00","interpolate":"monotone"},
"encoding":{"x":{"field":"d0","type":"quantitative","stack":null,"axis":null},"x2":{"field":"d1"},"detail":{"field":"id"}}},
{"data":{"name":"veryunhealthy"},"mark":{"type":"area","orient":"horizontal","color":"#EFA043","interpolate":"monotone"},
"encoding":{"x":{"field":"d0","type":"quantitative","stack":null,"axis":null},"x2":{"field":"d1"},"detail":{"field":"id"}}},
{"data":{"name":"missing"},"mark":{"type":"rect","color":"white"},
"encoding":{"y2":{"field":"yr2"},"x":{"field":"d0","type":"quantitative","axis":null},"x2":{"field":"d1"}}}
]},
{"width":23,"height":544,"view":{"stroke":"#808080","strokeWidth":1.5},
"layer":[
{"data":{"values":[{"level":"Good","lo":0,"hi":50},{"level":"Moderate","lo":50,"hi":100},{"level":"Unhealthy","lo":100,"hi":200},{"level":"Very Unhealthy","lo":200,"hi":300}]},
"mark":{"type":"rect"},
"encoding":{"y":{"field":"lo","type":"quantitative","scale":{"domain":[0,300],"nice":false},"axis":{"title":null,"orient":"right","zindex":1,"values":[0,50,100,150,200,250,300],"labelFontSize":18,"labelColor":"#444444","tickSize":-5,"tickColor":"#444444","domain":false,"grid":false,"labelPadding":10}},"y2":{"field":"hi"},
"color":{"field":"level","type":"nominal","legend":null,"scale":{"domain":["Good","Moderate","Unhealthy","Very Unhealthy"],"range":["#3399FF","#7AD76A","#FFFF00","#EFA043"]}}}},
{"data":{"values":[{"t":"Good","v":23,"p":1.65},{"t":"Moderate","v":75.6,"p":1.65},{"t":"Unhealthy","v":126,"p":1.65},{"t":"Unhealthy","v":220,"p":1.65},{"t":"Very","v":231,"p":1.65}]},
"mark":{"type":"text","align":"left","baseline":"middle","fontWeight":"bold","fontSize":17.5,"color":"#1a1a1a"},
"encoding":{"y":{"field":"v","type":"quantitative"},"x":{"field":"p","type":"quantitative","scale":{"domain":[0,1],"nice":false},"axis":null},"text":{"field":"t"}}},
{"data":{"values":[{"t":"API","v":308.5,"p":0.35}]},
"mark":{"type":"text","align":"center","baseline":"middle","fontWeight":"bold","fontSize":20,"color":"#111111"},
"encoding":{"y":{"field":"v","type":"quantitative"},"x":{"field":"p","type":"quantitative","axis":null},"text":{"field":"t"}}}
]}
]}
